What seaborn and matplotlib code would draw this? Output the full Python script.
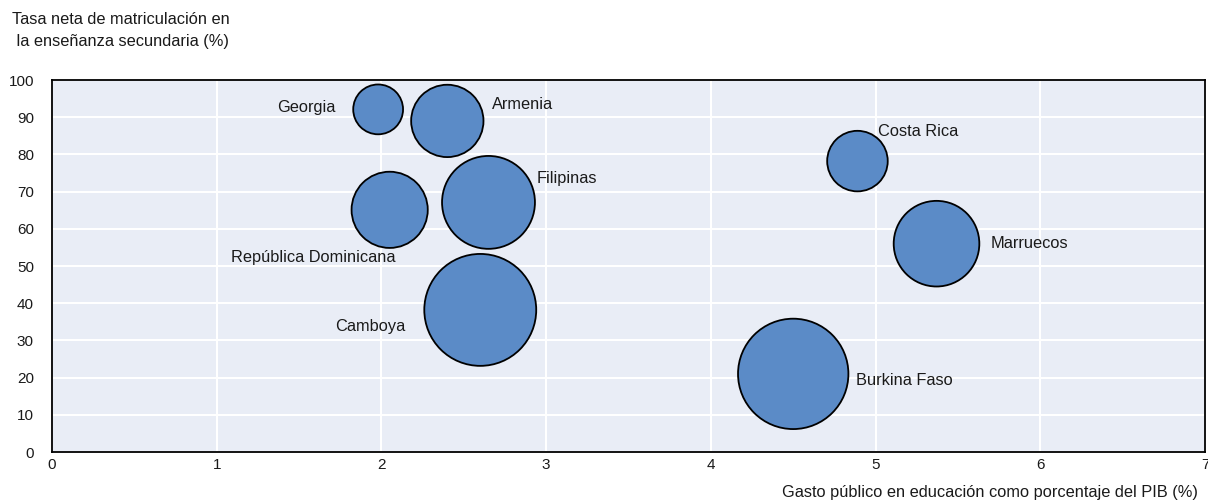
import matplotlib
matplotlib.use("Agg")
import matplotlib.pyplot as plt
import seaborn as sns
import pandas as pd

# Data
paises = ["Georgia", "Armenia", "Costa Rica", "República Dominicana",
          "Filipinas", "Marruecos", "Camboya", "Burkina Faso"]
gasto_pib = [1.98, 2.40, 4.89, 2.05, 2.65, 5.37, 2.60, 4.50]
tasa_matriculacion = [92.1, 89.0, 78.2, 65.1, 67.1, 56.0, 38.2, 21.0]
tamano_burbuja = [6.5, 13.7, 9.6, 15.2, 22.6, 19.2, 32.8, 31.9]

x_ticks = [0, 1, 2, 3, 4, 5, 6, 7]
y_ticks = [0, 10, 20, 30, 40, 50, 60, 70, 80, 90, 100]

xlabel = "Gasto público en educación como porcentaje del PIB (%)"
ylabel = "Tasa neta de matriculación en\n la enseñanza secundaria (%)"

# label offsets in points (style)
offsets = {
    "Georgia": (-31, 1, "right"),
    "Armenia": (32, 11.5, "left"),
    "Costa Rica": (15, 21, "left"),
    "República Dominicana": (4, -34, "right"),
    "Filipinas": (35, 17.5, "left"),
    "Marruecos": (39, 0, "left"),
    "Camboya": (-54, -12, "right"),
    "Burkina Faso": (45, -5, "left"),
}

df = pd.DataFrame({"pais": paises, "gasto": gasto_pib,
                   "tasa": tasa_matriculacion, "tam": tamano_burbuja})

sns.set_theme(style="white")
plt.rcParams["font.family"] = ["Liberation Sans Narrow", "Liberation Sans", "DejaVu Sans"]

FS = 11.8
TICK_FS = 11
TXT = "#1a1a1a"

fig = plt.figure(figsize=(12.08, 5.03), dpi=100)
ax = fig.add_axes([52 / 1208, (503 - 452) / 503, (1205 - 52) / 1208, (452 - 80) / 503])
ax.set_facecolor("#e9edf6")

vmax = 40
sns.scatterplot(data=df, x="gasto", y="tasa", size="tam",
                sizes=(0, 198 * vmax), size_norm=(0, vmax),
                color="#5b8bc7", edgecolor="black", linewidth=1.3,
                alpha=1, legend=False, ax=ax, zorder=3)

for p, xv, yv in zip(paises, gasto_pib, tasa_matriculacion):
    dx, dy, ha = offsets[p]
    ax.annotate(p, xy=(xv, yv), xytext=(dx, dy), textcoords="offset points",
                ha=ha, va="center", fontsize=FS, color=TXT, zorder=4)

ax.set_xlim(0, 7)
ax.set_ylim(0, 100)
ax.set_xticks(x_ticks)
ax.set_yticks(y_ticks)
ax.grid(True, color="white", linewidth=1.5, zorder=0)
ax.set_axisbelow(True)
ax.tick_params(axis="both", direction="in", length=4, width=1.2, color="black",
               labelsize=TICK_FS, labelcolor=TXT)
ax.tick_params(axis="x", pad=4)
ax.tick_params(axis="y", pad=13)
for s in ax.spines.values():
    s.set_color("black")
    s.set_linewidth(1.3)
ax.set_xlabel("")
ax.set_ylabel("")

fig.text(12 / 1208, 1 - 12 / 503, ylabel, ha="left", va="top",
         fontsize=FS, color=TXT, linespacing=1.55)
fig.text(1198 / 1208, 1 - 493 / 503, xlabel, ha="right", va="center",
         fontsize=FS, color=TXT)

fig.savefig("out.png", dpi=100)
